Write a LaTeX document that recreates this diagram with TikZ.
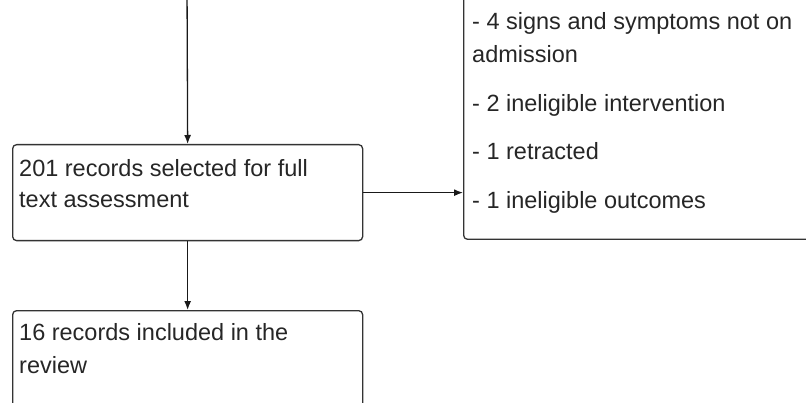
\documentclass[tikz,border=0pt]{standalone}
\usepackage{fontspec}
\setmainfont{Liberation Sans}
\usetikzlibrary{arrows.meta}
\begin{document}
\begin{tikzpicture}[x=1pt,y=1pt,
  box/.style={draw=black!80, line width=1.3pt, rounded corners=4pt, inner sep=0pt},
  lbl/.style={anchor=base west, inner sep=0pt, font=\fontsize{23.5}{33}\selectfont, text=black!85},
  conn/.style={draw=black!90, line width=1.3pt, -{Latex[length=9pt,width=7pt]}}]
\useasboundingbox (0,0) rectangle (806,402);
\clip (0,0) rectangle (806,402);
% boxes
\node[box, minimum width=350pt, minimum height=96pt, anchor=north west] (b1) at (12,258) {};
\node[box, minimum width=350pt, minimum height=112pt, anchor=north west] (b2) at (12,92) {};
\node[box, minimum width=400pt, minimum height=300pt, anchor=south west] (rb) at (463,162) {};
\coordinate (top) at (187,420);
% texts
\node[lbl] (t1a) at (19,225) {201 records selected for full};
\node[lbl] (t1b) at (19,194) {text assessment};
\node[lbl] (t2a) at (19,62) {16 records included in the};
\node[lbl] (t2b) at (19,29) {review};
\node[lbl] (r1) at (472,372) {- 4 signs and symptoms not on};
\node[lbl] (r2) at (472,339) {admission};
\node[lbl] (r3) at (472,290) {- 2 ineligible intervention};
\node[lbl] (r4) at (472,242) {- 1 retracted};
\node[lbl] (r5) at (472,193) {- 1 ineligible outcomes};
% connectors
\draw[conn] (top) -- (b1.north);
\draw[conn] (b1.south) -- (b2.north);
\draw[conn] (b1.east) -- (b1.east -| rb.west);
\end{tikzpicture}
\end{document}
